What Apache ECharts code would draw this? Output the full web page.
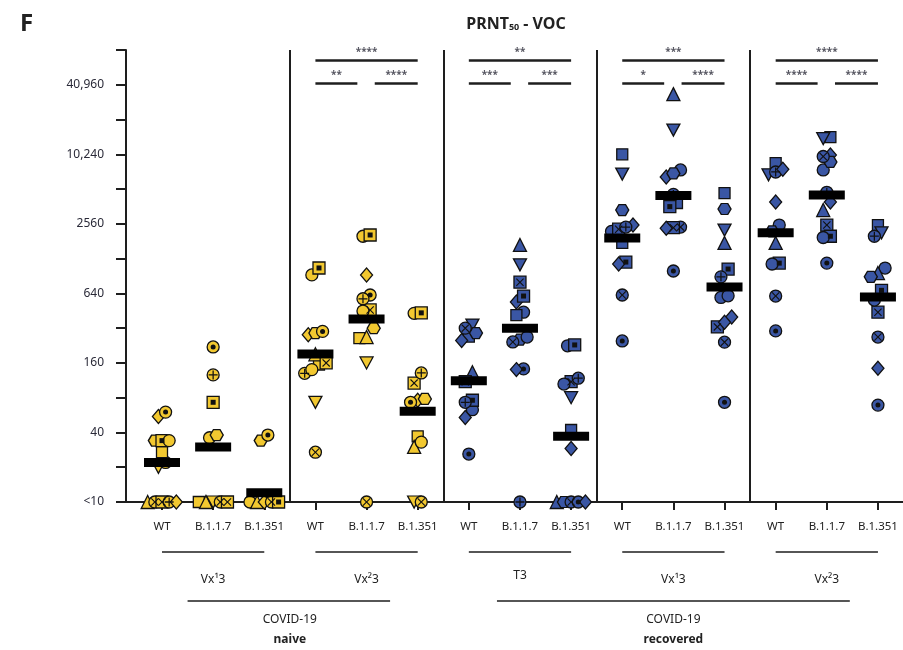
<!DOCTYPE html>
<html><head><meta charset="utf-8">
<script src="https://cdn.jsdelivr.net/npm/echarts@6/dist/echarts.min.js"></script>
<style>html,body{margin:0;padding:0;background:#fff}#c{width:903px;height:650px}</style>
</head><body><div id="c"></div>
<script>
// ---------- data ----------
const categories = ['WT','B.1.1.7','B.1.351','WT','B.1.1.7','B.1.351','WT','B.1.1.7','B.1.351','WT','B.1.1.7','B.1.351','WT','B.1.1.7','B.1.351'];
const panelLabels = ['Vx\u00b93','Vx\u00b23','T3','Vx\u00b93','Vx\u00b23'];
const cohortTop = ['COVID-19','COVID-19'];
const cohortBottom = ['naive','recovered'];
const yTickValues = [10,40,160,640,2560,10240,40960];
const yTickLabels = ['<10','40','160','640','2560','10,240','40,960'];
// subject identity -> marker shape (one per subject)
const subjectShapes = ['circle','square','triangle','invTri','diamond','hexagon','circleX','squareX','squareDot','circleDot','circlePlus','circle','diamond','square'];
// titers per subject (null = not measured); 10 means "<10"
const naiveVx1_WT    = [22, 27, 10, 20, 55, 34, 10, 10, 34, 60, 10, 34, 10, null];
const naiveVx1_B117  = [36, 10, 10, 10, null, 38, 10, 10, 73, 220, 126, null, null, null];
const naiveVx1_B1351 = [10, null, 10, null, 10, 34, 10, null, 10, 38, null, null, null, null];
const naiveVx2_WT    = [925, 155, 190, 73, 280, 290, 27, 160, 1062, 300, 130, 140, null, null];
const naiveVx2_B117  = [2000, 262, 268, 160, 925, 320, 10, 460, 2050, 620, 575, 450, null, null];
const naiveVx2_B1351 = [430, 37, 30, 10, 76, 78, 10, 107, 434, 73, 131, 33, null, null];
const recT3_WT       = [63, 270, 133, 340, 250, 290, 320, 110, 76, 26, 73, null, 54, null];
const recT3_B117     = [440, 415, 1680, 1130, 540, 255, 243, 800, 607, 142, 10, 268, 140, null];
const recT3_B1351    = [225, 42, 10, 80, 29, 10, 10, 110, 229, 10, 118, 105, 10, null];
const recVx1_WT      = [2200, 10240, null, 6900, 2500, 3370, 620, 2300, 1195, 248, 2400, null, 1150, 1750];
const recVx1_B117    = [7500, 3880, 34000, 16600, 6500, 7000, 2400, 2370, 3610, 1000, 4600, null, 2350, null];
const recVx1_B1351   = [590, 4720, 1750, 2260, 400, 3440, 242, 328, 1040, 73, 890, 610, 360, null];
const recVx2_WT      = [2500, 8600, 1750, 6800, 3960, 2200, 607, null, 1170, 303, 7200, 1150, 7600, null];
const recVx2_B117    = [7500, 14400, 3370, 14000, 10100, 8800, 9800, 2500, 2000, 1170, 4800, 1950, 3960, null];
const recVx2_B1351   = [1060, 2500, 960, 2140, 144, 890, 268, 440, 680, 69, 2000, 560, null, null];
const medians = [22, 30, 12, 191, 384, 61, 112, 320, 37, 1930, 4500, 727, 2140, 4550, 595];
const sigTop   = [null, '****', '**', '***', '****'];
const sigLeft  = [null, '**', '***', '*', '****'];
const sigRight = [null, '****', '***', '****', '****'];

// ---------- build ----------
const groups = [naiveVx1_WT, naiveVx1_B117, naiveVx1_B1351, naiveVx2_WT, naiveVx2_B117, naiveVx2_B1351,
  recT3_WT, recT3_B117, recT3_B1351, recVx1_WT, recVx1_B117, recVx1_B1351, recVx2_WT, recVx2_B117, recVx2_B1351];
const YELLOW = '#F2C830', BLUE = '#3A56A4', INK = '#1e1e1e';
const u = v => Math.log2(v / 10);
const labelMap = {};
yTickValues.forEach((t, i) => { labelMap[Math.round(u(t))] = yTickLabels[i]; });

const SHAPES = {
  circle: {sym: 'circle', size: 12},
  square: {sym: 'rect', size: 11},
  triangle: {sym: 'triangle', size: 13},
  invTri: {sym: 'path://M0,0L10,0L5,9Z', size: [13, 12]},
  diamond: {sym: 'diamond', size: [12, 14]},
  hexagon: {sym: 'path://M2.5,0L7.5,0L10,4.33L7.5,8.66L2.5,8.66L0,4.33Z', size: [13, 11]},
  circleX: {sym: 'circle', size: 12, deco: 'x'},
  squareX: {sym: 'rect', size: 12, deco: 'x'},
  squareDot: {sym: 'rect', size: 12, deco: 'sdot'},
  circleDot: {sym: 'circle', size: 12, deco: 'cdot'},
  circlePlus: {sym: 'circle', size: 12, deco: 'plus'}
};
const DECO = {
  x: {sym: 'path://M0,1L1,0L5,4L9,0L10,1L6,5L10,9L9,10L5,6L1,10L0,9L4,5Z', size: 8},
  plus: {sym: 'path://M4.3,0H5.7V4.3H10V5.7H5.7V10H4.3V5.7H0V4.3H4.3Z', size: 9},
  sdot: {sym: 'rect', size: 5},
  cdot: {sym: 'circle', size: 5}
};
const STEP = 0.14;
function spread(vals) {
  const pts = vals.map((v, i) => ({v: v == null ? null : u(v), i})).filter(p => p.v != null).sort((a, b) => a.v - b.v);
  const dx = {};
  let k = 0;
  while (k < pts.length) {
    let j = k;
    while (j + 1 < pts.length && pts[j + 1].v - pts[k].v < 0.3) j++;
    const n = j - k + 1;
    for (let m = 0; m < n; m++) dx[pts[k + m].i] = (m - (n - 1) / 2) * STEP;
    k = j + 1;
  }
  return dx;
}
const naivePts = [], recPts = [], decoPts = [];
groups.forEach((vals, c) => {
  const dx = spread(vals);
  vals.forEach((v, i) => {
    if (v == null) return;
    const sh = SHAPES[subjectShapes[i]];
    const pt = {value: [c + dx[i], u(v)], symbol: sh.sym, symbolSize: sh.size};
    (c < 6 ? naivePts : recPts).push(pt);
    if (sh.deco) {
      const d = DECO[sh.deco];
      decoPts.push({value: [c + dx[i], u(v)], symbol: d.sym, symbolSize: d.size});
    }
  });
});
const medianPts = medians.map((m, c) => [c, u(m)]);

// significance brackets
const Y_TOP = 12.71, Y_LOW = 12.05, Y_TOP_T = 12.94, Y_LOW_T = 12.28;
const bracketLines = [], starPts = [];
for (let p = 0; p < 5; p++) {
  if (!sigTop[p]) continue;
  const a = p * 3;
  bracketLines.push([{coord: [a, Y_TOP]}, {coord: [a + 2, Y_TOP]}]);
  bracketLines.push([{coord: [a, Y_LOW]}, {coord: [a + 0.82, Y_LOW]}]);
  bracketLines.push([{coord: [a + 1.16, Y_LOW]}, {coord: [a + 2, Y_LOW]}]);
  starPts.push({value: [a + 1, Y_TOP_T], name: sigTop[p]});
  starPts.push({value: [a + 0.41, Y_LOW_T], name: sigLeft[p]});
  starPts.push({value: [a + 1.58, Y_LOW_T], name: sigRight[p]});
}
const sepLines = [2.5, 5.5, 8.5, 11.5].map(x => ({xAxis: x}));
const idx = categories.map((_, i) => i);
const FONT = 'Noto Sans';

const chart = echarts.init(document.getElementById('c'), null, {renderer: 'canvas'});
chart.setOption({
  animation: false,
  backgroundColor: '#fff',
  textStyle: {fontFamily: FONT},
  grid: {left: 126, right: 0, top: 50, bottom: 148, containLabel: false},
  xAxis: {
    type: 'value', min: -0.704, max: 14.49,
    splitLine: {show: false},
    axisLine: {show: true, onZero: false, lineStyle: {color: INK, width: 2}},
    axisTick: {show: true, customValues: idx, length: 8, lineStyle: {color: INK, width: 2}},
    axisLabel: {show: true, customValues: idx, margin: 19, fontSize: 11.5, color: '#222', fontFamily: FONT,
      formatter: v => categories[Math.round(v)]}
  },
  yAxis: {
    type: 'value', min: 0, max: 13, interval: 1,
    splitLine: {show: false},
    axisLine: {show: true, onZero: false, lineStyle: {color: INK, width: 2}},
    axisTick: {show: true, length: 10, lineStyle: {color: INK, width: 2}},
    axisLabel: {margin: 22, fontSize: 12, color: '#2a2a38', fontFamily: FONT,
      formatter: v => labelMap[Math.round(v)] || ''}
  },
  series: [
    {type: 'scatter', name: 'naive', data: naivePts, z: 2, itemStyle: {color: YELLOW, borderColor: '#111', borderWidth: 1.3, opacity: 1}},
    {type: 'scatter', name: 'recovered', data: recPts, z: 2, itemStyle: {color: BLUE, borderColor: '#111', borderWidth: 1.3, opacity: 1}},
    {type: 'scatter', name: 'deco', data: decoPts, z: 3, itemStyle: {color: '#111', opacity: 1}},
    {type: 'scatter', name: 'median', data: medianPts, z: 4, symbol: 'rect', symbolSize: [36, 9], itemStyle: {color: '#000', opacity: 1},
      markLine: {silent: true, symbol: ['none', 'none'], label: {show: false}, lineStyle: {color: INK, width: 2, type: 'solid'}, data: sepLines}},
    {type: 'scatter', name: 'brackets', data: starPts, z: 4, symbolSize: 1, itemStyle: {color: 'rgba(0,0,0,0)'},
      label: {show: true, position: 'inside', formatter: p => p.name, fontSize: 10, fontWeight: 'bold', color: '#2a2a38'},
      markLine: {silent: true, symbol: ['none', 'none'], label: {show: false}, lineStyle: {color: INK, width: 2.5, type: 'solid'}, data: bracketLines}}
  ]
});

// annotations under the axis, tied to category positions
const px = x => chart.convertToPixel({gridIndex: 0}, [x, 0])[0];
const g = [];
const line = (x1, x2, y, w) => g.push({type: 'line', shape: {x1: x1, y1: y, x2: x2, y2: y}, style: {stroke: INK, lineWidth: w || 1.6}});
const text = (x, y, t, opt) => g.push({type: 'text', x: x, y: y, style: Object.assign({text: t, fill: '#222', font: '12px "' + FONT + '"', textAlign: 'center', textVerticalAlign: 'middle'}, opt || {})});
for (let p = 0; p < 5; p++) {
  line(px(p * 3), px(p * 3 + 2), 552);
  text(px(p * 3 + 1), p === 2 ? 576 : 580, panelLabels[p]);
}
line(px(0.5), px(4.46), 601);
line(px(6.55), px(13.45), 601);
[[2.5, 0], [10, 1]].forEach(([x, k]) => {
  text(px(x), 620, cohortTop[k]);
  text(px(x), 640, cohortBottom[k], {font: 'bold 12px "' + FONT + '"'});
});
g.push({type: 'text', x: 20, y: 12, style: {text: 'F', font: 'bold 24px "' + FONT + '"', fill: '#222'}});
g.push({type: 'text', x: 516, y: 22, style: {text: '{a|PRNT}{s|50}{a| - VOC}', textAlign: 'center', textVerticalAlign: 'middle',
  rich: {a: {fontSize: 16, fontWeight: 'bold', fontFamily: FONT, fill: '#222', lineHeight: 20, verticalAlign: 'bottom'},
         s: {fontSize: 9, fontWeight: 'bold', fontFamily: FONT, fill: '#222', lineHeight: 9, verticalAlign: 'bottom'}}}});
chart.setOption({graphic: g});
</script></body></html>
